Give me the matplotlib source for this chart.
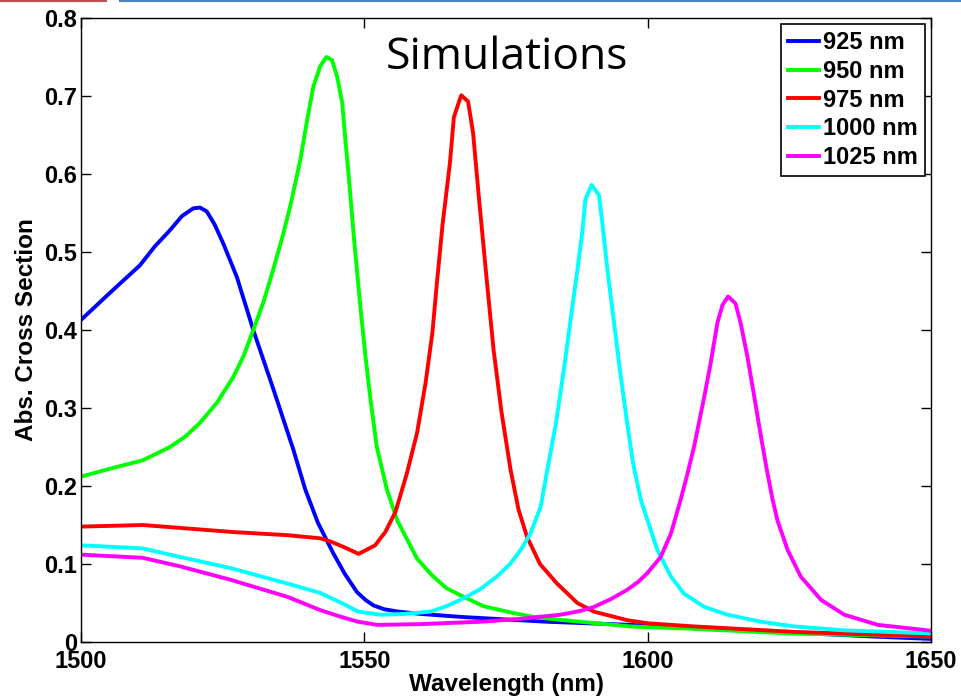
import numpy as np
import matplotlib
matplotlib.use("Agg")
import matplotlib.pyplot as plt
from matplotlib.lines import Line2D

# absorption cross section, per disk diameter
labels = ["925 nm", "950 nm", "975 nm", "1000 nm", "1025 nm"]
colors = ["#0000ff", "#00ff00", "#ff0000", "#00ffff", "#ff00ff"]

wl_925 = [1500, 1505, 1510.4, 1513, 1515.7, 1517.8, 1519.8, 1521, 1522.2, 1523.6,
          1525.1, 1527.5, 1530.4, 1534.0, 1537.5, 1539.6, 1541.8, 1544.5, 1546.5, 1548.7,
          1550.2, 1551.6, 1553.5, 1556, 1560, 1567.5, 1582.3, 1597, 1610, 1625.9,
          1640, 1650]
ab_925 = [0.413, 0.447, 0.483, 0.507, 0.528, 0.546, 0.556, 0.557, 0.552, 0.535,
          0.511, 0.468, 0.400, 0.323, 0.246, 0.195, 0.153, 0.114, 0.088, 0.064,
          0.054, 0.047, 0.042, 0.039, 0.036, 0.032, 0.026, 0.022, 0.017, 0.012,
          0.007, 0.004]

wl_950 = [1500, 1505, 1510.9, 1515.7, 1518.5, 1521, 1524, 1526.9, 1528.7, 1530.4,
          1532.2, 1533.9, 1535.5, 1536.9, 1538.7, 1539.9, 1541.0, 1542.2, 1543.3, 1544.3,
          1545.2, 1546.1, 1546.6, 1547.2, 1548.2, 1549.3, 1550.2, 1551.1, 1552.2, 1554.0,
          1555.8, 1559.3, 1562, 1564.5, 1567.5, 1571, 1576.4, 1580, 1585.2, 1597,
          1608, 1625, 1650]
ab_950 = [0.212, 0.222, 0.233, 0.250, 0.264, 0.281, 0.307, 0.340, 0.367, 0.400,
          0.436, 0.477, 0.518, 0.558, 0.618, 0.669, 0.712, 0.738, 0.750, 0.746,
          0.725, 0.691, 0.648, 0.601, 0.515, 0.430, 0.366, 0.310, 0.250, 0.195,
          0.156, 0.107, 0.085, 0.069, 0.058, 0.046, 0.037, 0.032, 0.028, 0.020,
          0.017, 0.011, 0.007]

wl_975 = [1500, 1510.9, 1526.9, 1536.4, 1542.2, 1544, 1546.3, 1549.0, 1551.9, 1553.7,
          1555.5, 1557.5, 1559.3, 1560.8, 1562.0, 1562.8, 1563.8, 1565.1, 1565.8, 1567.1,
          1568.3, 1569.2, 1570.2, 1571.6, 1572.8, 1574.2, 1575.8, 1577.2, 1578.7, 1581,
          1584, 1587.6, 1590.5, 1596.4, 1600, 1608.2, 1625.9, 1650]
ab_975 = [0.148, 0.150, 0.141, 0.137, 0.133, 0.129, 0.122, 0.113, 0.124, 0.141,
          0.167, 0.216, 0.268, 0.332, 0.396, 0.460, 0.535, 0.614, 0.673, 0.701,
          0.693, 0.652, 0.571, 0.464, 0.375, 0.295, 0.221, 0.170, 0.135, 0.100,
          0.075, 0.050, 0.039, 0.028, 0.024, 0.020, 0.013, 0.007]

wl_1000 = [1500, 1510.9, 1517.5, 1526.3, 1536.4, 1542.2, 1546, 1548.9, 1552.8, 1557,
           1561.7, 1564.5, 1567.5, 1570.5, 1573.4, 1575.7, 1577.6, 1579.3, 1581.1, 1582.3,
           1583.8, 1585.2, 1586.4, 1587.6, 1588.5, 1589.0, 1590.1, 1591.4, 1592.0, 1592.9,
           1594.0, 1595.1, 1596.2, 1597.4, 1598.8, 1601.7, 1604.1, 1606.4, 1610.0, 1614.1,
           1620.0, 1625.9, 1634.7, 1650]
ab_1000 = [0.124, 0.120, 0.109, 0.095, 0.075, 0.063, 0.050, 0.039, 0.035, 0.036,
           0.039, 0.046, 0.056, 0.068, 0.084, 0.100, 0.118, 0.139, 0.173, 0.221,
           0.280, 0.349, 0.413, 0.477, 0.528, 0.567, 0.586, 0.573, 0.537, 0.477,
           0.413, 0.349, 0.290, 0.230, 0.182, 0.118, 0.084, 0.062, 0.045, 0.035,
           0.026, 0.020, 0.015, 0.011]

wl_1025 = [1500, 1510.9, 1517.5, 1526.3, 1536.4, 1542.2, 1546, 1548.9, 1552.3, 1560,
           1570.5, 1578, 1584.6, 1588.2, 1590.5, 1593.5, 1596.4, 1598.3, 1599.9, 1602.3,
           1604.1, 1605.8, 1607.0, 1608.2, 1610.0, 1611.1, 1612.3, 1613.2, 1614.2, 1615.5,
           1616.4, 1617.6, 1618.8, 1620.0, 1621.0, 1622.0, 1622.9, 1624.7, 1627.0, 1630.6,
           1634.7, 1640.6, 1650]
ab_1025 = [0.112, 0.108, 0.097, 0.080, 0.058, 0.041, 0.032, 0.026, 0.022, 0.023,
           0.026, 0.030, 0.035, 0.040, 0.045, 0.055, 0.067, 0.077, 0.088, 0.109,
           0.139, 0.182, 0.215, 0.251, 0.315, 0.357, 0.409, 0.432, 0.443, 0.434,
           0.409, 0.366, 0.315, 0.263, 0.222, 0.184, 0.156, 0.118, 0.084, 0.054,
           0.035, 0.022, 0.0145]

series = [(wl_925, ab_925), (wl_950, ab_950), (wl_975, ab_975),
          (wl_1000, ab_1000), (wl_1025, ab_1025)]

xticks = [1500, 1550, 1600, 1650]
yticks = [0, 0.1, 0.2, 0.3, 0.4, 0.5, 0.6, 0.7, 0.8]
ytick_labels = ["0", "0.1", "0.2", "0.3", "0.4", "0.5", "0.6", "0.7", "0.8"]

plt.rcParams['font.family'] = ['Liberation Sans', 'DejaVu Sans']

fig = plt.figure(figsize=(9.61, 6.99), dpi=100)
ax = fig.add_axes([0.0843, 0.0815, 0.8845, 0.8927])

for (wl, ab), c, lab in zip(series, colors, labels):
    ax.plot(wl, ab, color=c, lw=2.8, label=lab, solid_joinstyle='round')

ax.set_xlim(1500, 1650)
ax.set_ylim(0, 0.8)
ax.set_xticks(xticks)
ax.set_xticklabels([str(t) for t in xticks])
ax.set_yticks(yticks)
ax.set_yticklabels(ytick_labels)
ax.tick_params(direction='in', length=7, width=1, top=True, right=True,
               labelsize=17)
ax.tick_params(axis='x', pad=6)
ax.tick_params(axis='y', pad=3)
for lbl in ax.get_xticklabels() + ax.get_yticklabels():
    lbl.set_fontweight('bold')
for s in ax.spines.values():
    s.set_linewidth(1)

ax.set_xlabel("Wavelength (nm)", fontsize=17.5, fontweight='bold', labelpad=0)
ax.set_ylabel("Abs. Cross Section", fontsize=17.5, fontweight='bold', labelpad=4)

ax.text(0.501, 0.936, "Simulations", transform=ax.transAxes, ha='center',
        va='center', fontsize=32, family=['Open Sans', 'DejaVu Sans'])

leg = ax.legend(loc='upper right', bbox_to_anchor=(0.993, 0.99),
                borderaxespad=0, prop={'size': 17, 'weight': 'bold'},
                handlelength=1.3, handletextpad=0.18, labelspacing=0.24,
                borderpad=0.3, fancybox=False, framealpha=1, edgecolor='black')
leg.get_frame().set_linewidth(1.2)

# slide decoration at the very top
fig.add_artist(Line2D([0, 0.11], [0.9985, 0.9985], color='#c0504d', lw=1.5))
fig.add_artist(Line2D([0.125, 1.0], [0.9985, 0.9985], color='#4f81bd', lw=1.5))

fig.savefig("out.png", dpi=100)
